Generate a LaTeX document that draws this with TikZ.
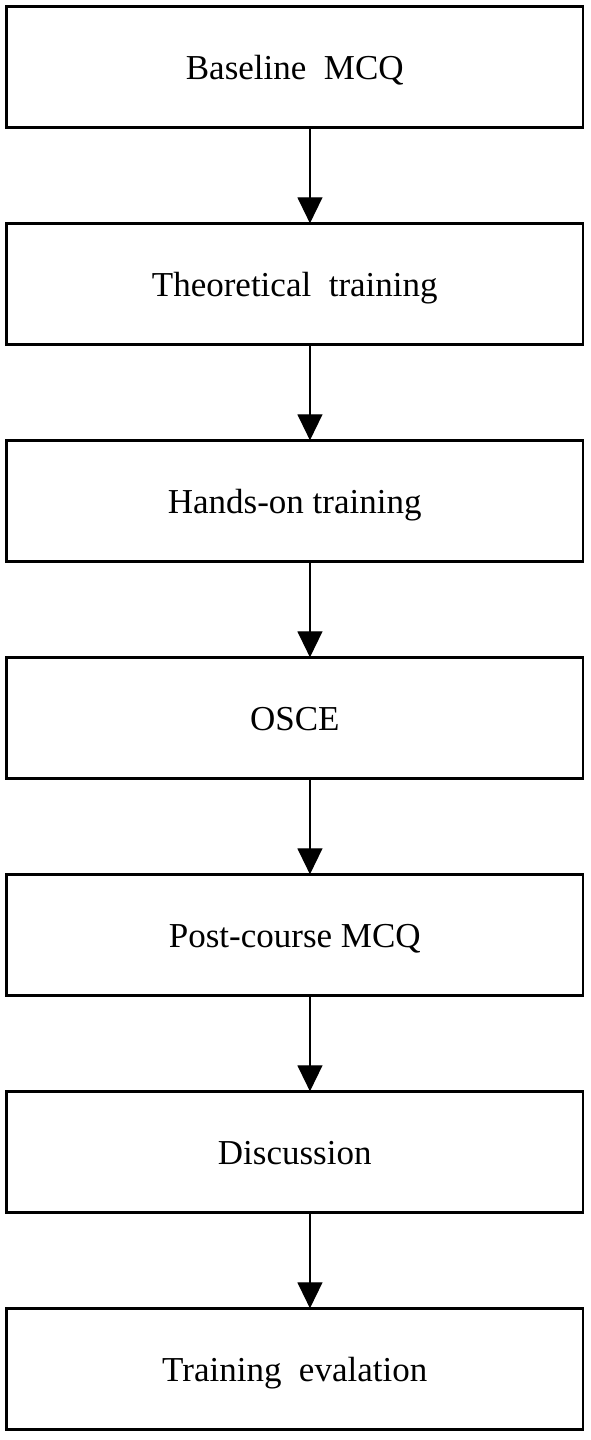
\documentclass[tikz,border=0pt]{standalone}
\usepackage{fontspec}
\setmainfont{Liberation Serif}
\usetikzlibrary{positioning,arrows.meta}

\begin{document}
\begin{tikzpicture}[>={Triangle[width=12.5pt,length=13pt]},
    stepbox/.style={draw, line width=1.25pt, minimum width=288.25pt,
        minimum height=60.5pt, inner sep=0pt, outer sep=0pt,
        text height=12.4pt, text depth=0pt,
        font=\fontsize{17.5pt}{21pt}\selectfont},
    node distance=48pt]
    \useasboundingbox (0,0) rectangle (295pt,-720pt);

    % Boxes
    \node[stepbox] (baseline) at (147.375pt,-33.4pt) {Baseline\ \ MCQ};
    \node[stepbox, below=of baseline] (theory) {Theoretical\ \ training};
    \node[stepbox, below=of theory] (handson) {Hands-on training};
    \node[stepbox, below=of handson] (osce) {OSCE};
    \node[stepbox, below=of osce] (postmcq) {Post-course MCQ};
    \node[stepbox, below=of postmcq] (discussion) {Discussion};
    \node[stepbox, below=of discussion] (evaluation) {Training\ \ evalation};

    % Arrows
    \foreach \a/\b in {baseline/theory, theory/handson, handson/osce,
        osce/postmcq, postmcq/discussion, discussion/evaluation}
        \draw[->, line width=0.65pt] ([xshift=7.6pt]\a.south) -- ([xshift=7.6pt]\b.north);
\end{tikzpicture}
\end{document}
